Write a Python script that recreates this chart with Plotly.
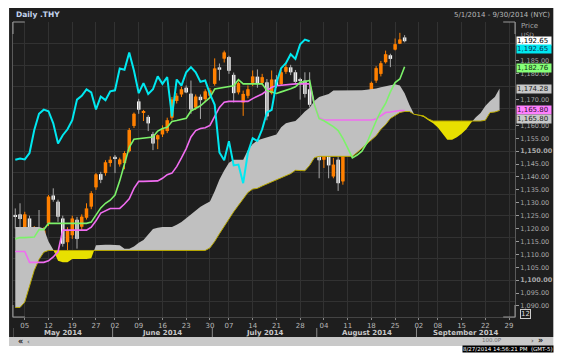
import numpy as np
import pandas as pd
import plotly.graph_objects as go

# ---------------- data ----------------
START, END = "2014-05-01", "2014-09-30"
HOLIDAYS = ["2014-05-26", "2014-07-04", "2014-09-01"]
SHIFT = 20  # chikou displacement (trading days)

OPEN = [1125.3, 1125.5, 1119.8, 1123.9, 1115.4, 1118.6, 1116.0, 1122.0, 1132.8, 1130.4,
        1123.9, 1114.7, 1117.4, 1123.4, 1120.7, 1124.2, 1128.5, 1136.0, 1141.1, 1141.5,
        1145.4, 1147.8, 1144.9, 1145.4, 1150.0, 1159.8, 1169.3, 1165.0, 1163.3, 1156.6,
        1154.6, 1156.5, 1157.8, 1163.0, 1169.5, 1172.0, 1174.6, 1172.3, 1166.9, 1171.1,
        1170.2, 1171.5, 1176.1, 1182.5, 1185.9, 1186.5, 1179.6, 1172.8, 1168.9, 1171.5,
        1176.5, 1178.9, 1176.5, 1176.7, 1172.5, 1177.8, 1176.0, 1180.8, 1182.5, 1180.6,
        1178.0, 1177.4, 1174.0, 1166.9, 1148.0, 1146.7, 1151.3, 1140.2, 1146.7, 1138.3,
        1152.9, 1155.5, 1155.2, 1161.1, 1168.5, 1169.3, 1177.4, 1180.0, 1184.5, 1187.2,
        1189.4, 1191.7, 1194.1]
HIGH = [1127.8, 1129.8, 1126.5, 1125.0, 1121.0, 1127.2, 1120.5, 1133.0, 1135.6, 1131.2,
        1125.0, 1120.5, 1125.0, 1124.5, 1125.5, 1129.8, 1134.5, 1141.5, 1142.0, 1146.5,
        1148.0, 1148.5, 1147.5, 1150.0, 1159.0, 1165.0, 1170.3, 1166.0, 1164.0, 1157.5,
        1156.5, 1160.0, 1163.0, 1171.0, 1172.5, 1175.0, 1175.5, 1177.4, 1172.0, 1172.0,
        1174.0, 1174.5, 1186.0, 1184.0, 1189.0, 1187.0, 1180.5, 1177.0, 1173.5, 1175.5,
        1181.3, 1181.7, 1180.0, 1178.0, 1181.3, 1179.5, 1181.5, 1184.0, 1183.5, 1181.5,
        1178.5, 1180.6, 1180.6, 1168.0, 1152.7, 1154.5, 1152.7, 1147.4, 1148.8, 1151.3,
        1159.8, 1156.5, 1160.0, 1166.0, 1170.8, 1177.0, 1183.0, 1185.0, 1189.0, 1187.8,
        1193.7, 1195.9, 1195.0]
LOW = [1120.0, 1120.0, 1114.1, 1113.6, 1109.0, 1113.6, 1114.5, 1121.0, 1130.4, 1122.6,
       1113.0, 1110.8, 1116.0, 1112.2, 1119.5, 1123.5, 1127.5, 1135.0, 1137.6, 1140.5,
       1144.0, 1141.5, 1144.0, 1143.0, 1149.5, 1159.0, 1164.5, 1161.7, 1157.8, 1150.4,
       1150.8, 1155.5, 1157.0, 1162.0, 1168.5, 1171.0, 1172.5, 1164.5, 1166.0, 1162.5,
       1169.0, 1170.5, 1175.4, 1177.4, 1184.4, 1180.0, 1168.9, 1172.0, 1163.7, 1170.5,
       1175.2, 1174.6, 1175.5, 1162.0, 1172.0, 1174.5, 1175.5, 1180.0, 1179.5, 1176.0,
       1170.0, 1170.8, 1167.0, 1148.0, 1139.5, 1143.5, 1139.5, 1139.5, 1134.6, 1137.0,
       1152.6, 1147.4, 1154.0, 1160.0, 1156.6, 1168.0, 1176.5, 1179.0, 1184.0, 1182.6,
       1189.1, 1191.7, 1192.2]
CLOSE = [1124.6, 1123.7, 1125.5, 1114.1, 1120.0, 1117.5, 1119.2, 1132.4, 1131.2, 1124.6,
         1114.1, 1119.5, 1123.9, 1116.0, 1124.6, 1127.8, 1133.7, 1141.0, 1138.9, 1145.7,
         1146.7, 1147.2, 1146.8, 1149.3, 1158.2, 1164.5, 1166.1, 1165.5, 1160.8, 1153.0,
         1156.2, 1158.5, 1162.0, 1170.0, 1171.5, 1174.0, 1172.8, 1166.2, 1171.2, 1169.8,
         1173.2, 1173.6, 1182.1, 1181.6, 1188.3, 1181.2, 1172.5, 1176.4, 1172.2, 1174.0,
         1179.0, 1176.1, 1178.7, 1163.5, 1177.8, 1175.4, 1180.6, 1182.6, 1180.6, 1176.9,
         1177.4, 1172.2, 1168.0, 1149.5, 1146.5, 1153.9, 1144.5, 1144.8, 1137.6, 1149.5,
         1155.0, 1154.0, 1158.5, 1165.0, 1166.0, 1176.5, 1182.2, 1184.1, 1187.6, 1185.8,
         1191.5, 1193.3, 1192.65]

TENKAN = [1116.0, 1116.5, 1116.5, 1116.5, 1116.7, 1119.6, 1119.6, 1122.0, 1122.0, 1122.0,
          1122.0, 1122.0, 1122.0, 1122.0, 1122.0, 1122.0, 1122.5, 1125.5, 1128.0, 1129.8,
          1131.0, 1133.0, 1138.5, 1145.0, 1151.5, 1154.6, 1154.8, 1155.0, 1155.2, 1155.5,
          1157.8, 1158.8, 1159.3, 1161.5, 1161.9, 1162.4, 1162.8, 1165.6, 1166.5, 1167.6,
          1169.2, 1170.8, 1174.1, 1174.4, 1174.8, 1175.1, 1175.4, 1177.7, 1176.1, 1176.1,
          1176.1, 1176.1, 1176.1, 1173.5, 1173.0, 1172.4, 1173.0, 1173.5, 1174.2, 1175.0,
          1176.7, 1177.0, 1177.4, 1168.0, 1162.6, 1161.8, 1160.8, 1159.5, 1158.0, 1155.0,
          1151.3, 1147.4, 1148.5, 1150.0, 1153.0, 1157.5, 1161.7, 1165.5, 1168.5, 1173.0,
          1176.6, 1178.0, 1182.76]
KIJUN = [1111.1, 1111.1, 1111.1, 1106.9, 1106.9, 1106.9, 1106.9, 1107.5, 1109.0, 1111.0,
         1119.4, 1119.4, 1119.4, 1119.4, 1119.4, 1119.4, 1120.5, 1123.0, 1126.0, 1127.0,
         1127.8, 1127.8, 1127.8, 1129.5, 1131.5, 1135.6, 1138.3, 1138.3, 1138.3, 1138.3,
         1138.5, 1139.5, 1140.9, 1141.5, 1144.0, 1147.4, 1151.0, 1155.5, 1158.0, 1158.8,
         1159.1, 1160.0, 1163.5, 1167.0, 1169.0, 1169.3, 1169.3, 1169.3, 1169.3, 1169.3,
         1170.4, 1171.2, 1172.2, 1173.5, 1174.8, 1175.4, 1175.6, 1175.8, 1176.0, 1176.1,
         1176.1, 1176.1, 1176.1, 1168.0, 1163.0, 1162.1, 1162.1, 1162.1, 1162.1, 1162.1,
         1162.1, 1162.1, 1162.1, 1162.1, 1162.1, 1162.1, 1162.5, 1163.8, 1165.0, 1165.2,
         1165.5, 1165.8, 1165.80]

SENKOU_A = [1120.6, 1120.6, 1120.6, 1120.6, 1120.6, 1120.6, 1120.0, 1115.0, 1111.8, 1107.5,
            1106.9, 1106.9, 1108.2, 1108.2, 1108.2, 1108.2, 1108.5, 1113.5, 1113.7, 1113.7,
            1113.7, 1113.7, 1113.5, 1112.2, 1112.2, 1113.0, 1114.5, 1115.6, 1117.5, 1119.8,
            1120.3, 1120.6, 1120.6, 1120.6, 1121.5, 1122.5, 1124.0, 1125.5, 1127.0, 1128.5,
            1129.5, 1130.5, 1134.5, 1139.0, 1142.5, 1145.5, 1146.7, 1146.7, 1146.7, 1150.5,
            1152.8, 1154.2, 1154.7, 1155.2, 1155.8, 1156.5, 1159.3, 1160.8, 1161.3, 1161.7,
            1163.5, 1165.4, 1166.8, 1169.5, 1171.0, 1171.5, 1172.2, 1173.5, 1173.5, 1173.5,
            1173.5, 1173.5, 1173.5, 1173.6, 1173.8, 1174.0, 1174.3, 1174.8, 1175.2, 1175.5,
            1176.0, 1175.5, 1172.5, 1168.0, 1164.2, 1163.8, 1163.3, 1162.0, 1160.8, 1159.2,
            1156.8, 1154.4, 1154.4, 1155.4, 1156.8, 1158.5, 1161.0, 1163.2, 1164.8, 1167.5,
            1169.5, 1171.0, 1174.28]
SENKOU_B = [1089.4, 1089.4, 1091.5, 1097.5, 1103.8, 1108.0, 1110.8, 1111.5, 1111.5, 1111.5,
            1111.5, 1111.5, 1111.5, 1111.5, 1111.5, 1111.5, 1111.5, 1111.5, 1111.5, 1111.5,
            1111.5, 1111.5, 1111.5, 1111.5, 1111.5, 1111.5, 1111.5, 1111.5, 1111.5, 1111.5,
            1111.5, 1111.5, 1111.5, 1111.5, 1111.5, 1111.5, 1111.5, 1111.5, 1111.5, 1111.5,
            1111.5, 1112.5, 1115.0, 1118.0, 1121.0, 1124.0, 1126.5, 1129.0, 1131.5, 1134.0,
            1135.3, 1135.6, 1136.5, 1137.3, 1138.2, 1138.9, 1139.6, 1140.4, 1141.3, 1142.6,
            1142.4, 1142.4, 1144.5, 1147.5, 1148.0, 1148.0, 1148.0, 1148.0, 1148.0, 1148.0,
            1148.0, 1148.0, 1149.5, 1151.2, 1152.8, 1154.3, 1156.0, 1158.5, 1160.3, 1162.7,
            1163.8, 1165.0, 1165.4, 1165.4, 1164.3, 1164.0, 1163.7, 1162.5, 1161.7, 1161.7,
            1161.7, 1161.7, 1161.7, 1161.7, 1161.7, 1161.7, 1161.7, 1161.7, 1161.7, 1162.0,
            1165.0, 1165.2, 1165.80]

PRICE_TICKS = [1185, 1180, 1170, 1160, 1155, 1150, 1145, 1140, 1135, 1130, 1125,
               1120, 1115, 1110, 1105, 1100, 1095, 1090]
GRID_BASE, GRID_STEP = 1100, 50 / 6

# ---------------- styling ----------------
BG = "#1e1e1e"
GRID = "#323232"
ORANGE = "#ff8000"
WICK_DOWN = "#a8a8a8"
CYAN = "#00e8f0"
GREEN = "#7cf26a"
MAGENTA = "#f06cf0"
CLOUD_GREY = "#c0c0c0"
CLOUD_YEL = "#e8e000"
SPAN_B_LINE = "#b8a800"
FONT = "DejaVu Sans"

W, H = 565, 353
ML, MR, MT, MB = 12, 42, 22, 36
PW, PH = W - ML - MR, H - MT - MB
X_RANGE = [-0.48, 105.25]
Y_RANGE = [1085.7, 1200.1]


def px_x(px):
    return (px - ML) / PW


def px_y(py):
    return (H - MB - py) / PH


# ---------------- calendar ----------------
days = pd.bdate_range(START, END)
days = days[~days.isin(pd.to_datetime(HOLIDAYS))]
n_days = len(days)
idx = np.arange(n_days)
week = days.isocalendar().week.values
tick_idx = [int(i) for i in idx if (i == 0 or week[i] != week[i - 1]) and days[i].weekday() <= 1]
tick_txt = [f"{days[i].day:02d}" for i in tick_idx]

n = len(CLOSE)
xc = idx[:n]

# ---------------- cloud with crossing points ----------------
a = np.array(SENKOU_A)
b = np.array(SENKOU_B)
xs = np.arange(len(a), dtype=float)
X, A, B = [], [], []
for i in range(len(xs)):
    if i > 0:
        d0, d1 = a[i - 1] - b[i - 1], a[i] - b[i]
        if d0 * d1 < 0:
            t = d0 / (d0 - d1)
            xcross = xs[i - 1] + t * (xs[i] - xs[i - 1])
            ycross = a[i - 1] + t * (a[i] - a[i - 1])
            X.append(xcross); A.append(ycross); B.append(ycross)
    X.append(xs[i]); A.append(a[i]); B.append(b[i])
X, A, B = np.array(X), np.array(A), np.array(B)

fig = go.Figure()
fig.add_trace(go.Scatter(x=X, y=B, mode="lines", line=dict(width=0), hoverinfo="skip"))
fig.add_trace(go.Scatter(x=X, y=np.maximum(A, B), mode="lines", line=dict(width=0),
                         fill="tonexty", fillcolor=CLOUD_GREY, hoverinfo="skip"))
fig.add_trace(go.Scatter(x=X, y=B, mode="lines", line=dict(width=0), hoverinfo="skip"))
fig.add_trace(go.Scatter(x=X, y=np.minimum(A, B), mode="lines", line=dict(width=0),
                         fill="tonexty", fillcolor=CLOUD_YEL, hoverinfo="skip"))
fig.add_trace(go.Scatter(x=X, y=B, mode="lines", line=dict(width=1, color=SPAN_B_LINE)))

# ---------------- candles: wicks (candlestick) + bodies (bars) ----------------
o = np.array(OPEN); c = np.array(CLOSE)
up = c >= o
fig.add_trace(go.Candlestick(
    x=xc, open=OPEN, high=HIGH, low=LOW, close=CLOSE,
    increasing=dict(line=dict(color=ORANGE, width=1), fillcolor=ORANGE),
    decreasing=dict(line=dict(color=WICK_DOWN, width=1), fillcolor=WICK_DOWN),
    whiskerwidth=0, hoverinfo="skip"))
fig.add_trace(go.Bar(
    x=xc, base=np.minimum(o, c), y=np.maximum(np.abs(c - o), 0.45), width=0.74,
    marker=dict(color=np.where(up, ORANGE, "#ffffff").tolist(), line=dict(width=0)),
    hoverinfo="skip"))

# ---------------- lines ----------------
fig.add_trace(go.Scatter(x=xc, y=KIJUN, mode="lines", line=dict(color=MAGENTA, width=1.6)))
fig.add_trace(go.Scatter(x=xc, y=TENKAN, mode="lines", line=dict(color=GREEN, width=1.6)))
fig.add_trace(go.Scatter(x=idx[:n - SHIFT], y=CLOSE[SHIFT:], mode="lines",
                         line=dict(color=CYAN, width=2), yaxis="y2"))

# ---------------- axes ----------------
ticktext = [f"<b>{v:,.2f}</b>" if v % 50 == 0 else f"{v:,.2f}" for v in PRICE_TICKS]
fig.update_layout(
    width=W, height=H, margin=dict(l=ML, r=MR, t=MT, b=MB),
    paper_bgcolor="white", plot_bgcolor=BG, showlegend=False,
    font=dict(family=FONT), boxgap=0.9, boxgroupgap=0.0, barmode="overlay",
    xaxis=dict(range=X_RANGE, tickmode="array", tickvals=tick_idx, ticktext=tick_txt,
               showgrid=True, gridcolor=GRID, gridwidth=1, ticks="outside", ticklen=2,
               tickcolor="#8a8a8a", tickfont=dict(size=7, color="#b8b8b8", family=FONT),
               rangeslider=dict(visible=False), zeroline=False,
               showline=True, linecolor="#444444", fixedrange=True),
    yaxis=dict(side="right", range=Y_RANGE, tickmode="array", tickvals=PRICE_TICKS,
               ticktext=ticktext, showgrid=False, ticks="outside", ticklen=3,
               tickcolor="#9a9a9a", tickfont=dict(size=6.5, color="#a8a8a8", family=FONT),
               zeroline=False, showline=True, linecolor="#5a5a5a", mirror=True),
    yaxis2=dict(overlaying="y", side="right", range=Y_RANGE, showgrid=True, gridcolor=GRID,
                tick0=GRID_BASE, dtick=GRID_STEP, showticklabels=False, ticks="",
                zeroline=False, showline=False),
)

shapes = []
annotations = []

# dark panel behind everything
shapes.append(dict(type="rect", xref="paper", yref="paper", layer="below",
                   x0=px_x(8), x1=px_x(562), y0=px_y(337), y1=px_y(8),
                   fillcolor=BG, line=dict(width=0)))
# scrollbar
shapes.append(dict(type="rect", xref="paper", yref="paper", layer="above",
                   x0=px_x(8), x1=px_x(562), y0=px_y(346), y1=px_y(337),
                   fillcolor="#c9c9c9", line=dict(width=0)))
# light corner brackets of the plot frame
CORNER = "#9a9a9a"
for cx, cy, dx, dy in [(0, 1, 1, -1), (0, 0, 1, 1), (1, 0, -1, 1), (1, 1, -1, -1)]:
    shapes.append(dict(type="line", xref="paper", yref="paper", x0=cx, x1=cx + dx * 12 / PW,
                       y0=cy, y1=cy, line=dict(color=CORNER, width=1)))
    shapes.append(dict(type="line", xref="paper", yref="paper", x0=cx, x1=cx,
                       y0=cy, y1=cy + dy * 12 / PH, line=dict(color=CORNER, width=1)))

# month labels and separators
months = days.to_period("M")
for m in months.unique():
    ii = idx[months == m]
    lo = max(ii.min() - 0.5, X_RANGE[0])
    hi = min(ii.max() + 0.5, X_RANGE[1])
    annotations.append(dict(x=(lo + hi) / 2, y=px_y(333.5), xref="x", yref="paper",
                            xanchor="center", yanchor="middle",
                            text=f"<b>{m.strftime('%B %Y')}</b>", showarrow=False,
                            font=dict(size=7, color="#c8c8c8", family=FONT)))
    shapes.append(dict(type="line", xref="x", yref="paper", x0=ii.min() - 0.5, x1=ii.min() - 0.5,
                       y0=px_y(328), y1=px_y(337), line=dict(color="#8a8a8a", width=1)))

# title bar
annotations.append(dict(x=px_x(13), y=px_y(15), xref="paper", yref="paper", xanchor="left",
                        yanchor="middle", text="<b>Daily .THY</b>", showarrow=False,
                        font=dict(size=7.5, color="#c4d4ee", family=FONT)))
annotations.append(dict(x=px_x(561), y=px_y(15), xref="paper", yref="paper", xanchor="right",
                        yanchor="middle", text="5/1/2014 - 9/30/2014 (NYC)", showarrow=False,
                        font=dict(size=7, color="#b8b8b8", family=FONT)))
annotations.append(dict(x=1, y=px_y(26), xref="paper", yref="paper", xanchor="left", xshift=4,
                        yanchor="middle", text="Price", showarrow=False,
                        font=dict(size=7, color="#a8a8a8", family=FONT)))
annotations.append(dict(x=1, y=px_y(34), xref="paper", yref="paper", xanchor="left", xshift=4,
                        yanchor="middle", text="USD", showarrow=False,
                        font=dict(size=6, color="#a8a8a8", family=FONT)))

# last-value boxes
LAST_LABELS = [
    (CLOSE[-1], "#ffffff", "#000000", 0),
    (CLOSE[-1], CYAN, "#0a3050", 8),
    (TENKAN[-1], "#86ff78", "#103010", 0.9),
    (SENKOU_A[-1], "#c8c8c8", "#202020", 0),
    (KIJUN[-1], "#ff80ff", "#301030", 0),
    (SENKOU_B[-1], "#c8c8c8", "#202020", 8.5),
]
for v, bg, fg, sh in LAST_LABELS:
    annotations.append(dict(x=1, y=v, xref="paper", yref="y", xanchor="left", yanchor="middle",
                            xshift=1, yshift=-sh, text=f"{v:,.2f}", showarrow=False,
                            bgcolor=bg, borderpad=0, width=34, height=7.5, align="left",
                            font=dict(size=7, color=fg, family=FONT)))

# small "12" box bottom right
annotations.append(dict(x=1, y=px_y(314), xref="paper", yref="paper", xanchor="left", xshift=5,
                        yanchor="middle", text="12", showarrow=False, bordercolor="#cccccc",
                        borderwidth=1, borderpad=0, font=dict(size=7, color="#dddddd", family=FONT)))

# scrollbar buttons and timestamp
annotations.append(dict(x=px_x(15), y=px_y(341.5), xref="paper", yref="paper", text="<b>«</b>",
                        yanchor="middle", showarrow=False, font=dict(size=8, color="#202020", family=FONT)))
annotations.append(dict(x=px_x(24), y=px_y(341.5), xref="paper", yref="paper", text="‹",
                        yanchor="middle", showarrow=False, font=dict(size=7, color="#404040", family=FONT)))
annotations.append(dict(x=px_x(544), y=px_y(340.5), xref="paper", yref="paper", text="›",
                        yanchor="middle", showarrow=False, font=dict(size=7, color="#404040", family=FONT)))
annotations.append(dict(x=px_x(554), y=px_y(340.5), xref="paper", yref="paper", text="<b>»</b>",
                        yanchor="middle", showarrow=False, font=dict(size=8, color="#202020", family=FONT)))
annotations.append(dict(x=px_x(512), y=px_y(339.5), xref="paper", yref="paper", text="100.0P",
                        yanchor="middle", showarrow=False, font=dict(size=5.5, color="#707070", family=FONT)))
annotations.append(dict(x=px_x(563), y=px_y(348.5), xref="paper", yref="paper", xanchor="right",
                        yanchor="middle", text="8/27/2014 14:56:21 PM  (GMT-5)", showarrow=False,
                        bgcolor="#000000", borderpad=0,
                        font=dict(size=5.5, color="#ffffff", family=FONT)))

fig.update_layout(shapes=shapes, annotations=annotations)
fig.write_html("out.html")
